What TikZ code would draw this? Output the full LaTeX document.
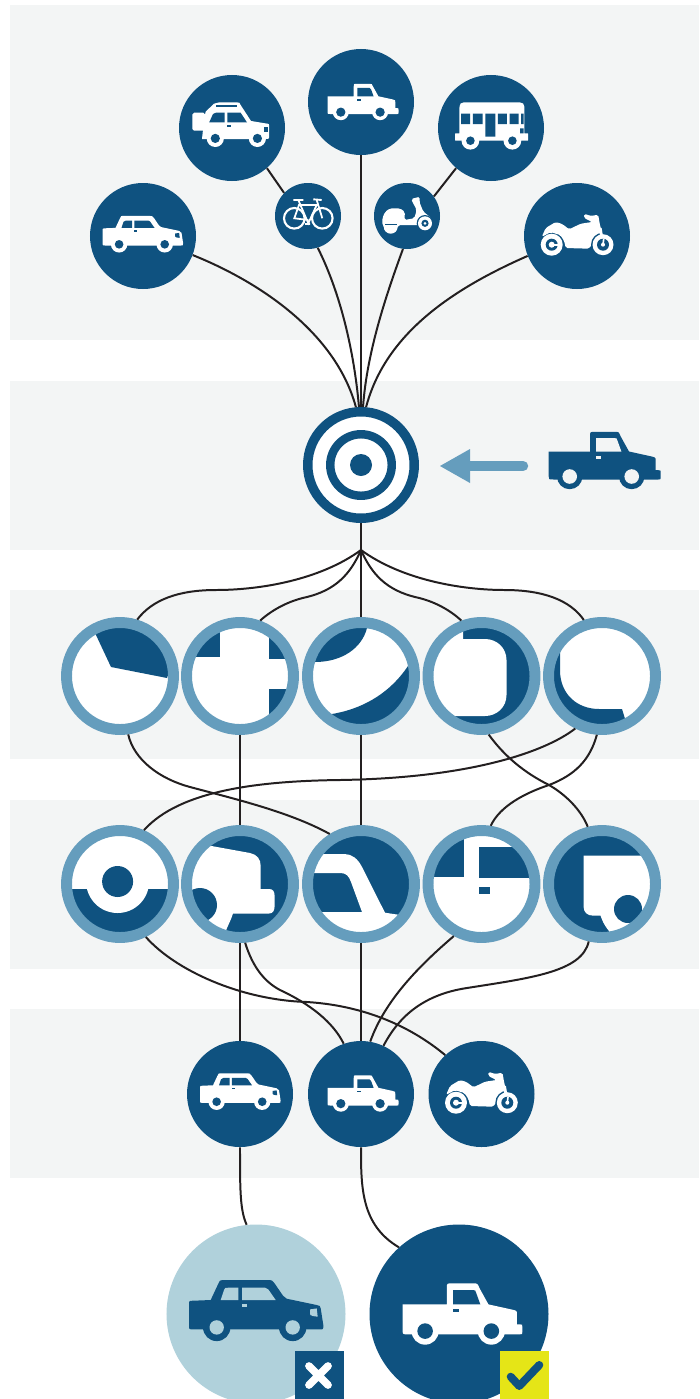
\documentclass[tikz,border=0pt]{standalone}
\definecolor{navy}{HTML}{0F5280}
\definecolor{ringblue}{HTML}{659DBD}
\definecolor{paleblue}{HTML}{B0D1DB}
\definecolor{panel}{HTML}{F3F5F5}
\definecolor{wire}{HTML}{231F20}
\definecolor{badge}{HTML}{E5E517}

\tikzset{
pics/pickup/.style n args={2}{code={
  \fill[#1] (-56,-9) -- (-14.7,-9) -- (-14.7,-24) .. controls (-14.7,-28.7) .. (-9.7,-28.7) -- (10.3,-28.7) .. controls (14,-28.7) .. (16,-24) -- (24.3,-9) -- (47,-4) .. controls (51,-3) .. (51,1) -- (51,9.7) -- (53.7,9.7) .. controls (56,9.7) .. (56,12) -- (56,16.7) .. controls (56,19) .. (53.7,19) -- (-51,19) .. controls (-56,19) .. (-56,16) -- cycle;
  \fill[#1] (-35,16) circle (12.7) (27,16) circle (12.7);
  \fill[#2] (-35,16) circle (7.3) (27,16) circle (7.3);
  \fill[#2] (-8.7,-22.3) -- (10.3,-22.3) .. controls (12,-22.3) .. (12.7,-20) -- (16.7,-9) -- (-8.7,-9) -- cycle;
  \fill[#2] (-8.7,-4.7) rectangle (-3.3,-1.7);
}},
pics/car/.style n args={2}{code={
  \fill[#1] (-62.7,-10) -- (-45.3,-10.7) -- (-38.3,-25.7) .. controls (-36,-30.7) .. (-33.3,-30.7) -- (10.7,-30.7) .. controls (16,-30.7) .. (19,-26.7) -- (27,-15) .. controls (28,-13) .. (30.7,-12) -- (60.7,-5.7) .. controls (64,-5) .. (64.7,-2.3) -- (67.3,14.3) .. controls (67.3,18.7) .. (64,18.7) -- (-62.7,18.7) .. controls (-67,18.7) .. (-67,14.3) -- (-67,-5.7) .. controls (-67,-10) .. cycle;
  \fill[#1] (-39.3,16.7) circle (13.7) (36.7,16.7) circle (13.7);
  \fill[#2] (-39.3,16.7) circle (7.2) (36.7,16.7) circle (7.2);
  \fill[#2] (-35.3,-10.7) -- (-32,-20.7) .. controls (-31,-23) .. (-27.7,-23) -- (-17.7,-23) -- (-17.7,-10.7) -- cycle;
  \fill[#2] (-14,-23) -- (9,-23) .. controls (11,-23) .. (12.3,-21.3) -- (19.7,-10.7) -- (-14,-10.7) -- cycle;
  \fill[#2] (-14.3,-6.7) rectangle (-8.7,-3.7);
  \fill[#2] (54,-1.3) -- (60.7,-2.3) -- (61.7,6) -- (56.7,5.3) .. controls (54,5) .. cycle;
}},
pics/suv/.style n args={2}{code={
  \fill[#1, rounded corners=1.5pt] (-38.6,-12) rectangle (-26,6);
  \fill[#1] (-29,14.3) -- (-27,-4) -- (-25.4,-13) -- (-17,-21) .. controls (-15,-22.3) .. (-12,-22.3) -- (6,-22.3) .. controls (8.5,-22.3) .. (9.6,-19.7) -- (20,-3.7) -- (34.6,-1.3) .. controls (38.2,-1) .. (38.2,2.7) -- (38.2,10.3) .. controls (38.2,14.3) .. (34,14.3) -- cycle;
  \fill[#1] (-15.7,13.7) circle (8.6) (26.4,13.7) circle (8.6);
  \fill[#2] (-15.7,13.7) circle (4.6) (26.4,13.7) circle (4.6);
  \fill[#2] (-21.8,-2.3) -- (-18,-10.7) .. controls (-17,-12) .. (-15,-12) -- (-6.5,-12) -- (-6.5,-2.3) -- cycle;
  \fill[#2] (-3.6,-12) -- (9.6,-12) -- (16,-2.3) -- (-3.6,-2.3) -- cycle;
  \fill[#2] (-15,-19.3) rectangle (6,-17.5);
  \fill[#2] (-4,0.7) rectangle (0.4,2.3);
  \fill[#2] (33.2,2.7) rectangle (36.8,7.3);
}},
pics/bus/.style n args={2}{code={
  \fill[#1] (-32,-14.3) .. controls (-32,-23.7) .. (-22,-23.7) -- (22.5,-23.7) .. controls (33,-23.7) .. (33,-14.3) -- (33,7.3) -- (35,7.3) .. controls (36.8,7.3) .. (36.8,9) -- (36.8,13) .. controls (36.8,14.7) .. (35,14.7) -- (-34.6,14.7) .. controls (-36.4,14.7) .. (-36.4,13) -- (-36.4,9) .. controls (-36.4,7.3) .. (-34.6,7.3) -- (-32,7.3) -- cycle;
  \fill[#1] (-21,14.7) circle (8.9) (21,14.7) circle (8.9);
  \fill[#2] (-21,14.7) circle (4.3) (21,14.7) circle (4.3);
  \fill[#2] (-30.4,-12.3) rectangle (-21.4,-2) (-18.6,-12.3) rectangle (-8.9,-2) (-6,-12.3) rectangle (4,10.7) (6.4,-12.3) rectangle (15.4,-2) (18.2,-12.3) rectangle (27.1,-2) (29.6,-12.3) rectangle (32.1,-2) (28.6,2.3) rectangle (32.1,7.3);
}},
pics/bike/.style n args={2}{code={
  \draw[#1, line width=1.8pt] (-13.7,2.3) circle (10.3) (14.3,2.3) circle (10.3);
  \draw[#1, line width=1.6pt] (-14.7,-16) -- (-4.7,-16) (5.3,-16.7) -- (13.7,-16) (-3,8) -- (2,8);
  \draw[#1, line width=1.5pt] (-9.7,-16) -- (0.3,7.3) -- (8.7,-11) -- (-9,-11) -- (-13.7,2.3) -- (0.3,4) (8.7,-16) -- (14.3,2.3);
}},
pics/scooter/.style n args={2}{code={
  \fill[#1, rounded corners=1.6pt] (-24.7,2.3) -- (-22,-4) -- (-17,-7.7) -- (-7,-7.7) -- (-2,-4) -- (-2.7,4) -- (7.3,2.3) -- (9.7,-6) -- (4,-17) -- (13,-19.3) -- (12.3,-14.3) -- (16.3,-4.3) -- (24.7,2.3) -- (24.7,9) -- (-8.7,9) -- (-10,13) -- (-21,13) -- (-24.7,9) -- cycle;
  \fill[#2] (18,7.3) circle (8.3);
  \fill[#1] (18,7.3) circle (7);
  \fill[#2] (18,7.3) circle (3.6);
  \fill[#1] (18,7.3) circle (1.5);
  \fill[#1] (-16.3,10.7) circle (7);
  \draw[#2, line width=.7pt] (-22,8.3) -- (-10,8.3);
}},
pics/moto/.style n args={2}{code={
  \fill[#1, rounded corners=1.5pt] (-35.5,1) -- (-31.5,-8) -- (-21.5,-14) -- (-15,-12) -- (-8,-6.7) -- (3.5,-12.3) -- (15,-14) -- (6.8,-18) -- (6.8,-22.3) -- (13.5,-20) -- (21,-21.3) -- (22.5,-12.3) -- (25,-2) -- (20,3) -- (14,9) -- (12,12.7) -- (-11.5,12) -- (-13,5) -- (-17,-1) -- (-26.5,-3.8) -- (-32,-1) -- cycle;
  \fill[#2] (25.8,8.7) circle (12);
  \draw[#1, line width=2.4pt] (23,-8) -- (25.8,8.7);
  \fill[#1] (-25.5,8.7) circle (11) (25.8,8.7) circle (10.5);
  \fill[#2] (-25.5,8.7) circle (6) (25.8,8.7) circle (6);
  \fill[#1] (-25.5,8.7) circle (3) (25.8,8.7) circle (2);
  \fill[#1] (-25.5,7.7) rectangle (-17,9.7);
  \draw[#1, line width=1.4pt] (25.8,8.7) -- (26.5,3);
}}
}

\newcommand{\lens}[4]{
\begin{scope}
\clip (#2,#3) circle (49);
\fill[white] (#2,#3) circle (49);
#4
\end{scope}
\node[lens] (#1) at (#2,#3) {};
}

\begin{document}
\begin{tikzpicture}[x=0.03cm, y=-0.03cm]
\tikzstyle{bigicon}=[circle, fill=navy, minimum size=3.18cm, inner sep=0pt]
\tikzstyle{smallicon}=[circle, fill=navy, minimum size=1.98cm, inner sep=0pt]
\tikzstyle{lens}=[circle, draw=ringblue, line width=9.35pt, minimum size=3.21cm, inner sep=0pt]
\tikzstyle{result}=[circle, minimum size=5.37cm, inner sep=0pt]
\tikzstyle{link}=[draw=wire, line width=1.7pt]
\useasboundingbox (0,0) rectangle (699,1399);

\fill[panel] (10,5) rectangle (699,340);
\fill[panel] (10,381) rectangle (699,550);
\fill[panel] (10,590) rectangle (699,759);
\fill[panel] (10,800) rectangle (699,969);
\fill[panel] (10,1009) rectangle (699,1178);

\node[bigicon] (Car) at (143,236) {};
\node[bigicon] (Suv) at (232,128) {};
\node[bigicon] (Pickup) at (361,102) {};
\node[bigicon] (Bus) at (491,128) {};
\node[bigicon] (Moto) at (577,236) {};
\node[smallicon] (Bike) at (308,216) {};
\node[smallicon] (Scooter) at (407,216) {};
\pic[scale=.6] at (142.7,234.3) {car={white}{navy}};
\pic at (231,124.7) {suv={white}{navy}};
\pic[scale=.634] at (363,102) {pickup={white}{navy}};
\pic at (491.4,126) {bus={white}{navy}};
\pic at (577.2,236) {moto={white}{navy}};
\pic at (308,216) {bike={white}{navy}};
\pic at (407,216) {scooter={white}{navy}};

\node[circle, draw=navy, fill=white, line width=8.1pt, minimum size=3.195cm, inner sep=0pt] (Target) at (361,465) {};
\draw[navy, line width=7.2pt] (361,465) circle (30.75);
\fill[navy] (361,465) circle (11);
\coordinate (ArrowTip) at (440,466);
\coordinate (ArrowEnd) at (523,466);
\draw[ringblue, line width=8.9pt, line cap=round] (ArrowEnd) -- (470,466);
\fill[ringblue] (ArrowTip) -- (470,449) -- (470,483) -- cycle;
\pic at (604.7,460.5) {pickup={navy}{panel}};

\lens{RA}{120}{676}{
  \fill[navy] (96,635) -- (111,667) -- (167,678) -- (180,640) -- (140,615) -- (96,615) -- cycle;
}
\lens{RB}{240}{676}{
  \fill[navy] (185,620) rectangle (220,657);
  \fill[navy] (269,620) rectangle (295,659);
  \fill[navy] (269,689) rectangle (295,730);
}
\lens{RC}{361}{676}{
  \fill[navy] (367,628) .. controls (362,648) and (342,662) .. (315,662) -- (300,662) -- (300,620) -- (367,620) -- cycle;
  \fill[navy] (408,666) .. controls (392,690) and (367,708) .. (332,714) -- (332,730) -- (420,730) -- (420,666) -- cycle;
}
\lens{RD}{481.5}{676}{
  \fill[navy] (481.5,676) circle (49);
  \fill[white] (463,620) -- (463,639) -- (485,639) .. controls (497,639) and (506.5,648) .. (506.5,660) -- (506.5,695) .. controls (506.5,707) and (497,716) .. (485,716) -- (420,716) -- (420,620) -- cycle;
}
\lens{RE}{602}{676}{
  \fill[navy] (560,640) -- (560,670) .. controls (560,695) and (578,709) .. (599,709) -- (622,709) -- (626,722) -- (626,735) -- (540,735) -- (540,640) -- cycle;
}

\lens{SA}{120}{884}{
  \fill[navy] (60,889) rectangle (180,940);
  \fill[white] (117.6,881.5) circle (31.5);
  \fill[navy] (117.6,881.5) circle (15.5);
}
\lens{SB}{240}{884}{
  \fill[navy] (240,884) circle (49);
  \fill[white] (195,843) -- (250,853) .. controls (257,854.5) and (260.7,859) .. (260.7,866) -- (260.7,889) -- (269,889) .. controls (272.5,889) and (274.5,891) .. (274.5,895) -- (274.5,907) .. controls (274.5,911) and (272.5,913.5) .. (269,913.5) -- (233,913.5) .. controls (231,920) and (228,925) .. (225,933) -- (180,933) -- (180,843) -- cycle;
  \fill[navy] (200,905) circle (17);
}
\lens{SC}{361}{884}{
  \fill[navy] (361,884) circle (49);
  \fill[white] (300,854) -- (344.5,854) .. controls (352,854) and (358,859) .. (362,867) -- (385,912.7) -- (420,918) -- (420,940) -- (300,940) -- (300,912) -- (362,912) -- (351,882) .. controls (349,876) and (346,873) .. (340.5,873) -- (300,873) -- cycle;
}
\lens{SD}{481.5}{884}{
  \fill[navy] (425,830) rectangle (464,877);
  \fill[navy] (478.5,846.7) rectangle (535,878);
  \fill[navy] (478.5,887) rectangle (490,893.7);
}
\lens{SE}{602}{884}{
  \fill[navy] (602,884) circle (49);
  \fill[white] (583.6,855.7) -- (660,855.7) -- (660,940) -- (609,940) -- (609,931) .. controls (604,925) and (602,920) .. (600.6,915.7) -- (593.5,915.7) .. controls (587,915.7) and (583.6,912) .. (583.6,906.7) -- cycle;
  \fill[navy] (628,909) circle (14);
}

\node[bigicon] (CarB) at (240,1094) {};
\node[bigicon] (PickupB) at (361,1094) {};
\node[bigicon] (MotoB) at (481.5,1094) {};
\pic[scale=.6] at (240.2,1091.7) {car={white}{navy}};
\pic[scale=.634] at (363,1093.5) {pickup={white}{navy}};
\pic at (481.5,1094) {moto={white}{navy}};

\node[result, fill=paleblue] (Rejected) at (256,1314) {};
\node[result, fill=navy] (Chosen) at (459,1314) {};
\pic at (256,1310.7) {car={navy}{paleblue}};
\pic[scale=1.068] at (462.5,1314) {pickup={white}{navy}};
\fill[navy] (295,1351) rectangle (344,1399);
\draw[white, line width=6.6pt, line cap=round] (309,1366) -- (328,1385) (328,1366) -- (309,1385);
\fill[badge] (500,1351) rectangle (549,1399);
\draw[navy, line width=6.8pt, line cap=round, line join=round] (510.7,1376.7) -- (519.3,1386) -- (539.3,1365);

\coordinate (Fan) at (361,550);

\path[link]
(Suv.-49) edge (Bike.136)
(Bus.229) edge (Scooter.36)
(Pickup) edge (Target)
(Target) edge (Fan)
(Fan) edge (RC)
(RB) edge (SB)
(RC) edge (SC)
(SB) edge (CarB)
(SC) edge (PickupB);

\draw[link] (Car.-21) .. controls (255,280) and (335,330) .. (Target.95);
\draw[link] (Bike.-73) .. controls (340,292) and (354,350) .. (Target.92);
\draw[link] (Scooter.-97) .. controls (388,290) and (367,350) .. (Target.88);
\draw[link] (Moto.202) .. controls (450,290) and (385,335) .. (Target.85);

\draw[link] (Fan) .. controls (320,580) and (260,590) .. (216,590) .. controls (178,590) and (152,600) .. (RA.73);
\draw[link] (Fan) .. controls (350,575) and (335,590) .. (307,597) .. controls (288,601) and (272,610) .. (RB.70);
\draw[link] (Fan) .. controls (372,575) and (387,590) .. (415,597) .. controls (434,601) and (450,610) .. (RD.110);
\draw[link] (Fan) .. controls (402,580) and (462,590) .. (504.5,590) .. controls (543,590) and (570,600) .. (RE.108);

\draw[link] (RA.278) .. controls (134,760) and (160,779) .. (190,787) .. controls (235,799) and (290,812) .. (SC.122);
\draw[link] (RE.243) .. controls (545,752) and (470,778) .. (340,780) .. controls (260,781) and (180,790) .. (SA.66);
\draw[link] (RD.277) .. controls (505,757) and (525,773) .. (549,785) .. controls (568,796) and (582,812) .. (SE.104);
\draw[link] (RE.265) .. controls (590,760) and (575,775) .. (549,785) .. controls (525,793) and (500,806) .. (SD.81);

\draw[link] (SA.296) .. controls (175,970) and (240,1000) .. (307,1002) .. controls (370,1006) and (415,1030) .. (MotoB.133);
\draw[link] (SB.275) .. controls (253,968) and (265,982) .. (280,990) .. controls (310,1004) and (333,1022) .. (PickupB.109);
\draw[link] (SD.242) .. controls (420,965) and (385,1000) .. (PickupB.80);
\draw[link] (SE.257) .. controls (582,972) and (530,978) .. (467,988) .. controls (420,995) and (397,1020) .. (PickupB.65);

\draw[link] (CarB.south) .. controls (240,1190) and (240,1210) .. (Rejected.96);
\draw[link] (PickupB.south) .. controls (361,1187) and (361,1225) .. (Chosen.132);
\end{tikzpicture}
\end{document}
